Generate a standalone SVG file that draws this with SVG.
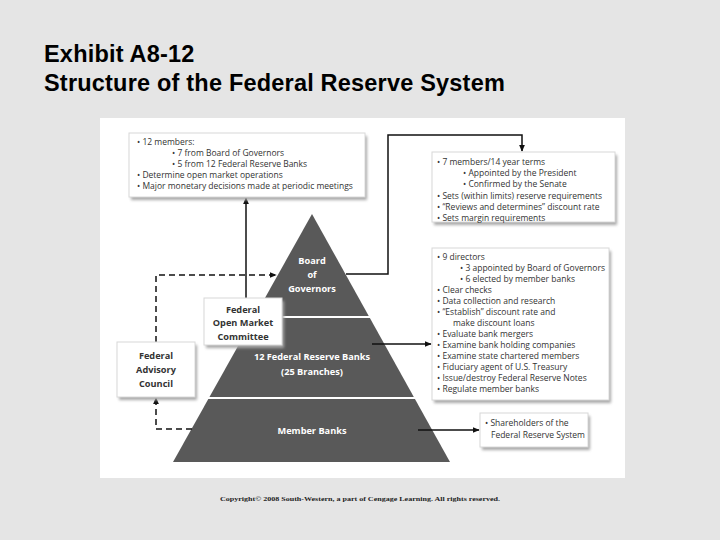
<svg xmlns="http://www.w3.org/2000/svg" width="720" height="540" viewBox="0 0 720 540">
<style>
.title{font-family:"Liberation Sans",Arial,sans-serif;font-weight:bold;font-size:23.5px;fill:#000;letter-spacing:0.2px}
.t{font-family:"Open Sans","Noto Sans",sans-serif;font-size:8.5px;fill:#333}
.p{font-family:"Open Sans","Noto Sans",sans-serif;font-size:9.2px;font-weight:bold;fill:#fff;text-anchor:middle}
.n{font-family:"Open Sans","Noto Sans",sans-serif;font-size:9.2px;font-weight:bold;fill:#333;text-anchor:middle}
.box{fill:#fff;stroke:#d8d8d8;stroke-width:1}
.sh{fill:#a8a8a8;filter:url(#blur)}
.ln{stroke:#111;stroke-width:1.5;fill:none}
.dash{stroke:#111;stroke-width:1.5;fill:none;stroke-dasharray:6,4}
.cp{font-family:"Liberation Serif",serif;font-size:7px;font-weight:bold;fill:#222;text-anchor:middle}
</style>
<defs>
<filter id="blur" x="-10%" y="-10%" width="120%" height="130%"><feGaussianBlur stdDeviation="1.5"/></filter>
<marker id="ah" viewBox="0 0 10 10" refX="9" refY="5" markerWidth="7" markerHeight="6" orient="auto" markerUnits="userSpaceOnUse" preserveAspectRatio="none"><path d="M0,0 L10,5 L0,10 z" fill="#111"/></marker>
</defs>
<rect x="0" y="0" width="720" height="540" fill="#e5e5e5"/>
<text class="title" x="44" y="62">Exhibit A8-12</text>
<text class="title" x="44" y="91">Structure of the Federal Reserve System</text>
<rect x="100" y="118" width="525" height="360" fill="#fff"/>

<g id="pyramid">
<polygon points="312,214 450,462 173,462" fill="#595959"/>
<line x1="240" y1="317" x2="385" y2="317" stroke="#fff" stroke-width="2"/>
<line x1="195" y1="398" x2="430" y2="398" stroke="#fff" stroke-width="2"/>
</g>
<g id="board">
<text class="p" x="312" y="264">Board</text>
<text class="p" x="312" y="278">of</text>
<text class="p" x="312" y="292">Governors</text>
</g>
<g id="frb">
<text class="p" x="312" y="360">12 Federal Reserve Banks</text>
<text class="p" x="312" y="375">(25 Branches)</text>
</g>
<g id="member">
<text class="p" x="312" y="434">Member Banks</text>
</g>

<g id="connectors">
<line class="ln" x1="246" y1="298" x2="246" y2="198" marker-end="url(#ah)"/>
<polyline class="ln" points="346,274 388,274 388,135 522,135 522,151" marker-end="url(#ah)"/>
<line class="ln" x1="372" y1="344" x2="431" y2="344" marker-end="url(#ah)"/>
<line class="ln" x1="418" y1="430" x2="479" y2="430" marker-end="url(#ah)"/>
<polyline class="dash" points="156,342 156,275 276,275" marker-end="url(#ah)"/>
<polyline class="dash" points="192,429 156,429 156,398" marker-end="url(#ah)"/>
</g>

<g id="fomc-box">
<rect class="sh" x="131" y="136" width="236" height="64"/>
<rect class="box" x="129" y="133" width="236" height="64"/>
<text class="t" x="137" y="145">• 12 members:</text>
<text class="t" x="172" y="156">• 7 from Board of Governors</text>
<text class="t" x="172" y="167">• 5 from 12 Federal Reserve Banks</text>
<text class="t" x="137" y="178">• Determine open market operations</text>
<text class="t" x="137" y="189">• Major monetary decisions made at periodic meetings</text>
</g>

<g id="board-box">
<rect class="sh" x="434" y="155" width="183" height="70"/>
<rect class="box" x="432" y="152" width="183" height="70"/>
<text class="t" x="437" y="165">• 7 members/14 year terms</text>
<text class="t" x="463" y="176">• Appointed by the President</text>
<text class="t" x="463" y="187">• Confirmed by the Senate</text>
<text class="t" x="437" y="199">• Sets (within limits) reserve requirements</text>
<text class="t" x="437" y="210">• “Reviews and determines” discount rate</text>
<text class="t" x="437" y="221">• Sets margin requirements</text>
</g>

<g id="frb-box">
<rect class="sh" x="434" y="251" width="177" height="152"/>
<rect class="box" x="432" y="248" width="177" height="152"/>
<text class="t" x="437" y="260">• 9 directors</text>
<text class="t" x="460" y="271">• 3 appointed by Board of Governors</text>
<text class="t" x="460" y="282">• 6 elected by member banks</text>
<text class="t" x="437" y="293">• Clear checks</text>
<text class="t" x="437" y="304">• Data collection and research</text>
<text class="t" x="437" y="315">• “Establish” discount rate and</text>
<text class="t" x="453" y="326">make discount loans</text>
<text class="t" x="437" y="337">• Evaluate bank mergers</text>
<text class="t" x="437" y="348">• Examine bank holding companies</text>
<text class="t" x="437" y="359">• Examine state chartered members</text>
<text class="t" x="437" y="370">• Fiduciary agent of U.S. Treasury</text>
<text class="t" x="437" y="381">• Issue/destroy Federal Reserve Notes</text>
<text class="t" x="437" y="392">• Regulate member banks</text>
</g>

<g id="member-box">
<rect class="sh" x="482" y="416" width="108" height="34"/>
<rect class="box" x="480" y="413" width="108" height="34"/>
<text class="t" x="485" y="426">• Shareholders of the</text>
<text class="t" x="491" y="438">Federal Reserve System</text>
</g>

<g id="fomc">
<rect class="sh" x="206" y="301" width="78" height="47"/>
<rect class="box" x="204" y="298" width="78" height="47"/>
<text class="n" x="243" y="313">Federal</text>
<text class="n" x="243" y="326">Open Market</text>
<text class="n" x="243" y="340">Committee</text>
</g>

<g id="fac">
<rect class="sh" x="119" y="345" width="78" height="55"/>
<rect class="box" x="117" y="342" width="78" height="55"/>
<text class="n" x="156" y="359">Federal</text>
<text class="n" x="156" y="373">Advisory</text>
<text class="n" x="156" y="387">Council</text>
</g>

<text class="cp" x="360" y="501" textLength="280" lengthAdjust="spacingAndGlyphs">Copyright© 2008 South-Western, a part of Cengage Learning. All rights reserved.</text>
</svg>
